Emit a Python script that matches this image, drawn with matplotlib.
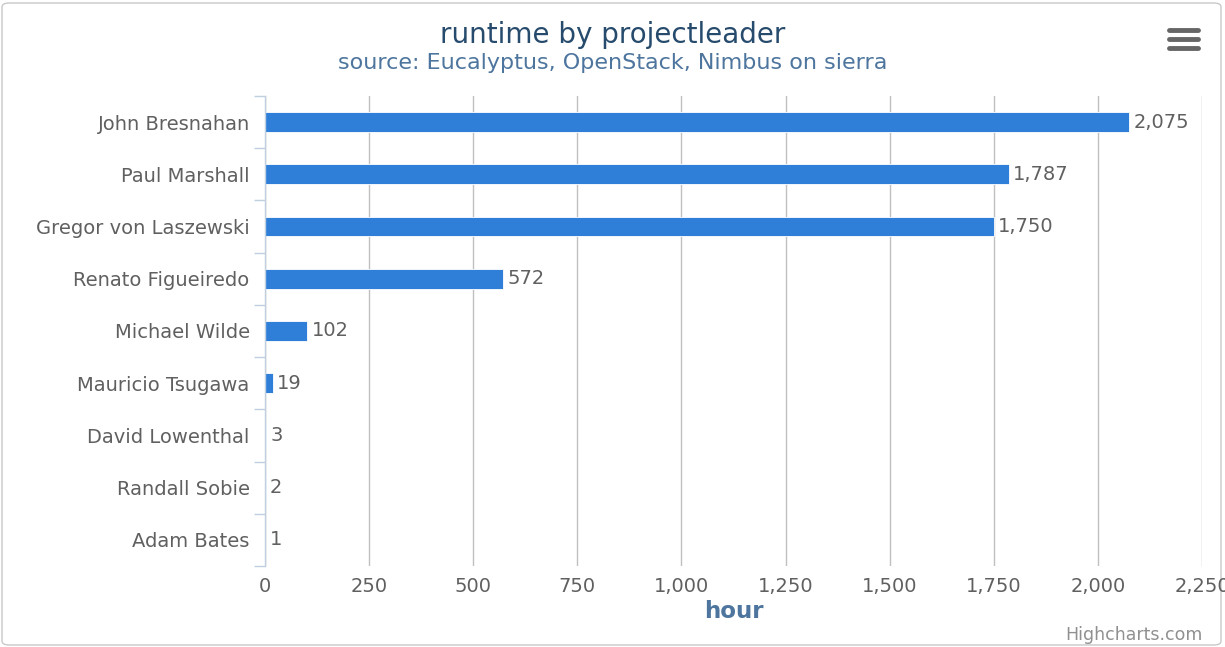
import matplotlib.pyplot as plt
from matplotlib.patches import FancyBboxPatch
from matplotlib.ticker import FuncFormatter

# Runtime per project leader (hours)
leaders = [
    "John Bresnahan", "Paul Marshall", "Gregor von Laszewski",
    "Renato Figueiredo", "Michael Wilde", "Mauricio Tsugawa",
    "David Lowenthal", "Randall Sobie", "Adam Bates",
]
hours = [2075, 1787, 1750, 572, 102, 19, 3, 2, 1]
x_ticks = [0, 250, 500, 750, 1000, 1250, 1500, 1750, 2000, 2250]

BAR = "#2f7ed8"
LABEL = "#606060"
AXIS = "#c0d0e0"
GRID = "#c0c0c0"
FS = 14

plt.rcParams["font.family"] = "DejaVu Sans"

fig = plt.figure(figsize=(12.25, 6.47), dpi=100)
W, H = 1225, 647

# chart frame
frame = FancyBboxPatch((2 / W, 2 / H), 1219 / W, 642 / H,
                       boxstyle="round,pad=0,rounding_size=0.006",
                       transform=fig.transFigure, facecolor="none",
                       edgecolor="#c8c8c8", linewidth=1.0, zorder=-1)
fig.patches.append(frame)

ax = fig.add_axes([265 / W, (H - 566) / H, (1202 - 265) / W, (566 - 96) / H])
ax.set_facecolor("none")

y = list(range(len(leaders)))
ax.barh(y, hours, height=0.38, color=BAR, edgecolor="white", linewidth=0.6, zorder=3)

for yi, v in zip(y, hours):
    ax.text(v + 10, yi, f"{v:,}", va="center", ha="left", fontsize=FS,
            color=LABEL, zorder=4)

ax.set_xlim(0, 2250)
ax.set_ylim(len(leaders) - 0.5, -0.5)
ax.set_xticks(x_ticks)
ax.xaxis.set_major_formatter(FuncFormatter(lambda v, p: f"{int(v):,}"))
ax.tick_params(axis="x", length=0, labelsize=FS, labelcolor=LABEL, pad=8)
ax.grid(axis="x", color=GRID, linewidth=1.0, zorder=0)

ax.set_yticks(y)
ax.set_yticklabels(leaders)
ax.set_yticks([i - 0.5 for i in range(len(leaders) + 1)], minor=True)
ax.tick_params(axis="y", which="major", length=0, labelsize=FS,
               labelcolor=LABEL, pad=11)
ax.tick_params(axis="y", which="minor", length=8, color=AXIS, width=1.0)

for side in ["top", "right", "bottom"]:
    ax.spines[side].set_visible(False)
ax.spines["left"].set_color(AXIS)
ax.spines["left"].set_linewidth(1.0)
ax.spines["left"].set_zorder(5)

ax.set_xlabel("hour", fontsize=16.5, fontweight="bold", color="#4d759e", labelpad=3)

fig.text(0.5, (H - 35) / H, "runtime by projectleader", ha="center", va="center",
         fontsize=20, color="#274b6d")
fig.text(0.5, (H - 63) / H, "source: Eucalyptus, OpenStack, Nimbus on sierra",
         ha="center", va="center", fontsize=16, color="#4d759e")
fig.text(1203 / W, (H - 635) / H, "Highcharts.com", ha="right", va="center",
         fontsize=12.5, color="#909090")

# export menu icon
for yy in (30, 39, 48):
    fig.add_artist(plt.Line2D([1169 / W, 1198 / W], [(H - yy) / H] * 2,
                              color="#666666", linewidth=3.5,
                              solid_capstyle="round"))

fig.savefig("out.png", dpi=100)
